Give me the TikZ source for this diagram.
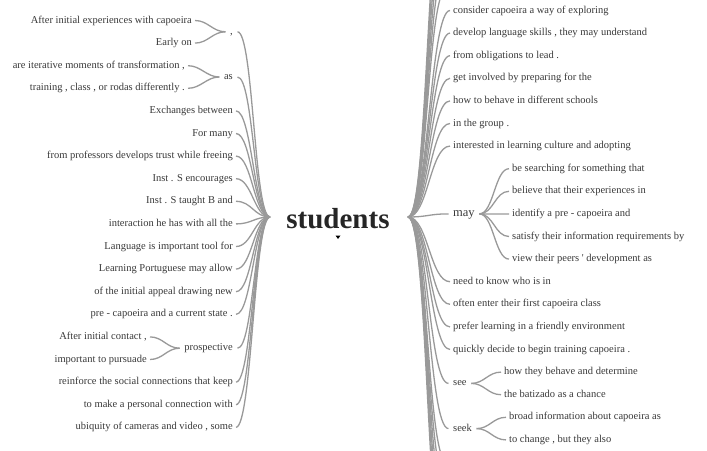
\documentclass[tikz,border=0pt]{standalone}
\usepackage{fontspec}
\setmainfont{Liberation Serif}
\usetikzlibrary{positioning,calc}
\definecolor{wordcol}{HTML}{383838}
\definecolor{linkcol}{HTML}{999999}
\tikzset{
	word/.style={text=wordcol, font=\fontsize{10.5}{12}\selectfont, inner xsep=3pt, inner ysep=0pt, text height=7pt, text depth=2pt},
	hub/.style={word, inner xsep=4.5pt},
	link/.style={draw=linkcol, line width=1.3pt},
}
\begin{document}
\begin{tikzpicture}[x=1pt,y=-1pt]
\useasboundingbox (0,0) rectangle (707,450);
\clip (0,0) rectangle (707,450);

% root word
\node[font=\bfseries\fontsize{29}{31}\selectfont, text=black!85] (students) at (338,219) {students};
\coordinate (rootL) at (270,217);
\coordinate (rootR) at (408,217);
\fill[black] (335.5,235.5) -- (340.5,235.5) -- (338,239) -- cycle;

% left side, plain leaves
\foreach \txt [count=\i from 4] in {Exchanges between, For many,
	from professors develops trust while freeing, Inst . S encourages,
	Inst . S taught B and, interaction he has with all the,
	Language is important tool for, Learning Portuguese may allow,
	of the initial appeal drawing new, pre - capoeira and a current state .}{
	\pgfmathsetmacro\yy{20.5+22.6*\i}
	\node[word, anchor=east] (L\i) at (236,\yy) {\txt};
	\draw[link] (L\i.east) .. controls +(16,0) and +(-16,0) .. (rootL);
}
\foreach \txt [count=\i from 16] in {reinforce the social connections that keep,
	to make a personal connection with, {ubiquity of cameras and video , some}}{
	\pgfmathsetmacro\yy{20.5+22.6*\i}
	\node[word, anchor=east] (L\i) at (236,\yy) {\txt};
	\draw[link] (L\i.east) .. controls +(16,0) and +(-16,0) .. (rootL);
}

% left side, hubs
\node[hub, anchor=east] (comma) at (237.5,31.8) {,};
\node[word, anchor=east] (comma1) at (195,20.5) {After initial experiences with capoeira};
\node[word, anchor=east] (comma2) at (195,43.1) {Early on};
\node[hub, anchor=east] (as) at (237.5,77) {as};
\node[word, anchor=east] (as1) at (188,65.7) {are iterative moments of transformation ,};
\node[word, anchor=east] (as2) at (188,88.3) {training , class , or rodas differently .};
\node[hub, anchor=east] (prosp) at (237.5,348.2) {prospective};
\node[word, anchor=east] (prosp1) at (150,336.9) {After initial contact ,};
\node[word, anchor=east] (prosp2) at (150,359.5) {important to pursuade};

\foreach \h in {comma,as,prosp}{
	\draw[link] (\h.east) .. controls +(16,0) and +(-16,0) .. (rootL);
	\foreach \j in {1,2}
		\draw[link] (\h\j.east) .. controls +(13,0) and +(-13,0) .. (\h.west);
}

% right side, plain leaves
\foreach \txt [count=\i from 0] in {consider capoeira a way of exploring,
	{develop language skills , they may understand}, from obligations to lead .,
	get involved by preparing for the, how to behave in different schools,
	in the group ., interested in learning culture and adopting}{
	\pgfmathsetmacro\yy{10.5+22.6*\i}
	\node[word, anchor=west] (R\i) at (450,\yy) {\txt};
	\draw[link] (rootR) .. controls +(20,0) and +(-20,0) .. (R\i.west);
}
\foreach \txt [count=\i from 12] in {need to know who is in,
	often enter their first capoeira class, prefer learning in a friendly environment,
	quickly decide to begin training capoeira .}{
	\pgfmathsetmacro\yy{10.5+22.6*\i}
	\node[word, anchor=west] (R\i) at (450,\yy) {\txt};
	\draw[link] (rootR) .. controls +(20,0) and +(-20,0) .. (R\i.west);
}

% right side, branches running out of the frame
\foreach \k in {1,...,6}{
	\coordinate (up\k) at (447,10.5-22.6*\k);
	\draw[link] (rootR) .. controls +(20,0) and +(-20,0) .. (up\k);
}
\foreach \k in {20,...,25}{
	\coordinate (down\k) at (447,10.5+22.6*\k);
	\draw[link] (rootR) .. controls +(20,0) and +(-20,0) .. (down\k);
}

% right side, hubs
\node[hub, anchor=west, font=\fontsize{12.5}{14}\selectfont] (may) at (448.5,213.9) {may};
\foreach \txt [count=\i from 7] in {be searching for something that,
	believe that their experiences in, identify a pre - capoeira and,
	satisfy their information requirements by,
	view their peers \textquotesingle\ development as}{
	\pgfmathsetmacro\yy{10.5+22.6*\i}
	\node[word, anchor=west] (may\i) at (509,\yy) {\txt};
	\draw[link] (may.east) .. controls +(14,0) and +(-14,0) .. (may\i.west);
}
\node[hub, anchor=west] (see) at (448.5,383.4) {see};
\node[word, anchor=west] (see1) at (501,372.1) {how they behave and determine};
\node[word, anchor=west] (see2) at (501,394.7) {the batizado as a chance};
\node[hub, anchor=west] (seek) at (448.5,428.6) {seek};
\node[word, anchor=west] (seek1) at (506,417.3) {broad information about capoeira as};
\node[word, anchor=west] (seek2) at (506,439.9) {to change , but they also};

\draw[link] (rootR) .. controls +(20,0) and +(-20,0) .. (may.west);
\foreach \h in {see,seek}{
	\draw[link] (rootR) .. controls +(20,0) and +(-20,0) .. (\h.west);
	\foreach \j in {1,2}
		\draw[link] (\h.east) .. controls +(13,0) and +(-13,0) .. (\h\j.west);
}
\end{tikzpicture}
\end{document}
